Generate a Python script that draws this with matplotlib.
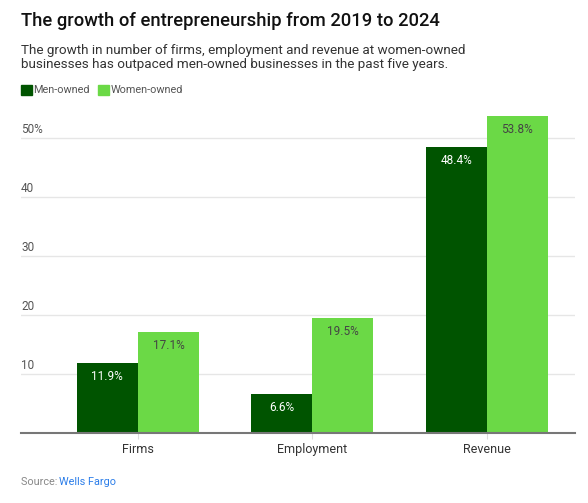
import matplotlib
matplotlib.use("Agg")
import matplotlib.pyplot as plt
import numpy as np

categories = ["Firms", "Employment", "Revenue"]
men_owned = [11.9, 6.6, 48.4]
women_owned = [17.1, 19.5, 53.8]
y_ticks = [10, 20, 30, 40, 50]
y_tick_labels = ["10", "20", "30", "40", "50%"]

MEN_COLOR = "#005400"
WOMEN_COLOR = "#6bd946"
FONT = ["Roboto", "DejaVu Sans"]

plt.rcParams["font.family"] = FONT

fig = plt.figure(figsize=(5.88, 5.03), dpi=100)
ax = fig.add_axes([21 / 588, 1 - 433 / 503, (575 - 21) / 588, (433 - 108.5) / 503])

x = np.arange(len(categories))
width = 0.35
men_bars = ax.bar(x - width / 2, men_owned, width, color=MEN_COLOR, zorder=3)
women_bars = ax.bar(x + width / 2, women_owned, width, color=WOMEN_COLOR, zorder=3)

for bar, val in zip(men_bars, men_owned):
    ax.annotate(f"{val}%", (bar.get_x() + bar.get_width() / 2, val),
                xytext=(0, -5), textcoords="offset points", ha="center", va="top",
                color="white", fontsize=8.5, zorder=4)
for bar, val in zip(women_bars, women_owned):
    ax.annotate(f"{val}%", (bar.get_x() + bar.get_width() / 2, val),
                xytext=(0, -5), textcoords="offset points", ha="center", va="top",
                color="#444444", fontsize=8.5, zorder=4)

ax.set_xlim(-0.67, 2.505)
ax.set_ylim(0, 55)

ax.set_yticks(y_ticks)
ax.set_yticklabels([])
ax.tick_params(axis="y", length=0)
ax.grid(axis="y", color="#e6e6e6", linewidth=1, zorder=0)
for t, lab in zip(y_ticks, y_tick_labels):
    ax.text(0, t + 0.35, lab, transform=ax.get_yaxis_transform(), ha="left", va="bottom",
            color="#555555", fontsize=8.5)

ax.set_xticks(x)
ax.set_xticklabels(categories, fontsize=9, color="#333333")
ax.tick_params(axis="x", length=4, color="#dddddd", pad=3)

for side in ("top", "right", "left"):
    ax.spines[side].set_visible(False)
ax.spines["bottom"].set_color("#777777")
ax.spines["bottom"].set_linewidth(1.5)
ax.spines["bottom"].set_zorder(5)

# title block
fig.text(21 / 588, 1 - 21 / 503, "The growth of entrepreneurship from 2019 to 2024",
         fontsize=13.2, fontweight="medium", color="#111111", va="center")
fig.text(21 / 588, 1 - 57.5 / 503,
         "The growth in number of firms, employment and revenue at women-owned\n"
         "businesses has outpaced men-owned businesses in the past five years.",
         fontsize=9.7, color="#333333", va="center", linespacing=1.15)

# legend
leg_y = 1 - 90 / 503
fig.patches.append(plt.Rectangle((21 / 588, leg_y - 5 / 503), 11 / 588, 10 / 503,
                                 transform=fig.transFigure, color=MEN_COLOR))
fig.text(33 / 588, leg_y, "Men-owned", fontsize=7.8, color="#555555", va="center")
fig.patches.append(plt.Rectangle((98 / 588, leg_y - 5 / 503), 11 / 588, 10 / 503,
                                 transform=fig.transFigure, color=WOMEN_COLOR))
fig.text(111 / 588, leg_y, "Women-owned", fontsize=7.8, color="#555555", va="center")

# source
src = fig.text(21 / 588, 1 - 482 / 503, "Source: ", fontsize=7.8, color="#888888", va="center")
fig.canvas.draw()
bb = src.get_window_extent()
fig.text(bb.x1 / fig.bbox.width - 0.002, 1 - 482 / 503, "Wells Fargo", fontsize=7.8,
         color="#2b7de9", va="center")

fig.savefig("out.png", dpi=100)
